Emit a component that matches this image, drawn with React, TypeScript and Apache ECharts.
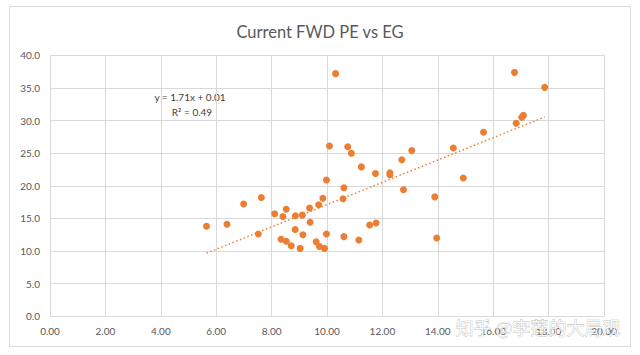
import React, { useEffect, useRef } from "react";
import * as echarts from "echarts";

const egValues = [
  5.65, 6.39, 6.99, 7.63, 7.52, 8.11, 8.34, 8.41, 8.53, 8.53, 8.71, 8.86, 8.85,
  9.03, 9.11, 9.13, 9.37, 9.39, 9.61, 9.7, 9.73, 9.85, 9.91, 9.98, 9.98, 10.09,
  10.31, 10.58, 10.61, 10.61, 10.75, 10.88, 11.15, 11.24, 11.54, 11.77, 11.75,
  12.27, 12.27, 12.7, 12.76, 13.06, 13.89, 13.96, 14.56, 14.92, 15.65, 16.77,
  16.83, 17.03, 17.09, 17.86,
];
const peValues = [
  13.8, 14.1, 17.2, 18.2, 12.6, 15.7, 11.8, 15.3, 16.4, 11.5, 10.8, 15.4, 13.3,
  10.4, 15.5, 12.5, 16.6, 14.4, 11.4, 17.1, 10.7, 18.1, 10.4, 12.6, 20.9, 26.1,
  37.2, 18.0, 19.7, 12.2, 26.0, 25.0, 11.7, 22.9, 14.0, 14.3, 21.9, 22.0, 21.7,
  24.0, 19.4, 25.4, 18.3, 12.0, 25.8, 21.2, 28.2, 37.4, 29.6, 30.5, 30.8, 35.1,
];
const slope = 1.71;
const intercept = 0.01;
const rSquared = 0.49;
const titleText = "Current FWD PE vs EG";
const watermarkText = "知乎 @李莲的大局观";

const FONT = "Lato, 'Open Sans', sans-serif";

export default function App() {
  const ref = useRef<HTMLDivElement>(null);
  useEffect(() => {
    if (!ref.current) return;
    const chart = echarts.init(ref.current, undefined, { renderer: "svg" });
    const points = egValues.map((x, i) => [x, peValues[i]]);
    const xMin = Math.min(...egValues);
    const xMax = Math.max(...egValues);
    const trend = [
      [xMin, slope * xMin + intercept],
      [xMax, slope * xMax + intercept],
    ];
    chart.setOption({
      animation: false,
      backgroundColor: "#ffffff",
      textStyle: { fontFamily: FONT },
      title: {
        text: titleText,
        left: "center",
        top: 18,
        textStyle: { fontFamily: FONT, fontSize: 16.5, fontWeight: "normal", color: "#595959" },
      },
      grid: { left: 50, right: 36, top: 55.4, bottom: 38.8 },
      xAxis: {
        type: "value",
        min: 0,
        max: 20,
        interval: 2,
        axisLine: { show: true, lineStyle: { color: "#D9D9D9" } },
        axisTick: { show: false },
        splitLine: { show: true, lineStyle: { color: "#D9D9D9" } },
        axisLabel: {
          color: "#595959",
          fontSize: 10,
          margin: 10,
          formatter: (v: number) => v.toFixed(2),
        },
      },
      yAxis: {
        type: "value",
        min: 0,
        max: 40,
        interval: 5,
        axisLine: { show: true, lineStyle: { color: "#D9D9D9" } },
        axisTick: { show: false },
        splitLine: { show: true, lineStyle: { color: "#D9D9D9" } },
        axisLabel: {
          color: "#595959",
          fontSize: 10,
          margin: 10,
          formatter: (v: number) => v.toFixed(1),
        },
      },
      series: [
        {
          type: "line",
          data: trend,
          symbol: "none",
          lineStyle: { color: "#ED7D31", width: 1.5, type: [1.5, 2.5] },
          silent: true,
          z: 1,
        },
        {
          type: "scatter",
          data: points,
          symbol: "circle",
          symbolSize: 7,
          itemStyle: { color: "#ED7D31", opacity: 1 },
          z: 2,
        },
      ],
      graphic: [
        {
          type: "rect",
          shape: { x: 9.5, y: 6.5, width: 621, height: 340 },
          style: { fill: "none", stroke: "#D9D9D9", lineWidth: 1 },
          silent: true,
          z: -1,
        },
        {
          type: "text",
          x: 190,
          y: 97,
          style: {
            text: `y = ${slope.toFixed(2)}x + ${intercept.toFixed(2)}`,
            fill: "#404040",
            font: `10px ${FONT}`,
            align: "center",
            verticalAlign: "middle",
          },
        },
        {
          type: "text",
          x: 192,
          y: 112,
          style: {
            text: `R² = ${rSquared.toFixed(2)}`,
            fill: "#404040",
            font: `10px ${FONT}`,
            align: "center",
            verticalAlign: "middle",
          },
        },
        {
          type: "text",
          x: 538,
          y: 327,
          style: {
            text: watermarkText,
            fill: "rgba(255,255,255,0.8)",
            stroke: "rgba(150,150,150,0.75)",
            lineWidth: 0.6,
            font: `18px 'Noto Sans CJK SC', sans-serif`,
            align: "center",
            verticalAlign: "middle",
          },
          z: 100,
        },
      ],
    });
    return () => chart.dispose();
  }, []);
  return (
    <div
      ref={ref}
      style={{ position: "fixed", left: 0, top: 0, width: 640, height: 355 }}
    />
  );
}
